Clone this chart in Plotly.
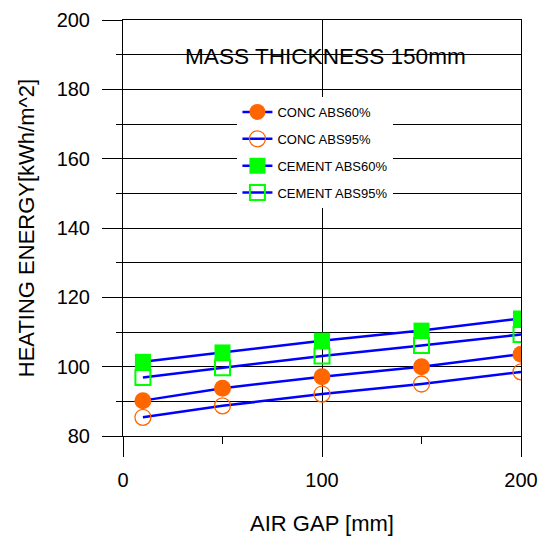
import plotly.graph_objects as go

air_gap = [10, 50, 100, 150, 200]
conc_abs60 = [90.2, 93.8, 97.1, 100.0, 103.6]
conc_abs95 = [85.4, 88.7, 92.1, 95.0, 98.5]
cement_abs60 = [101.4, 104.1, 107.5, 110.4, 113.9]
cement_abs95 = [96.9, 99.7, 103.1, 106.1, 109.3]

series = [
    ("CONC ABS60%", conc_abs60, dict(symbol="circle", size=17, color="#FF6600", line=dict(width=0))),
    ("CONC ABS95%", conc_abs95, dict(symbol="circle-open", size=16, color="#FF6600", line=dict(width=1.3, color="#FF6600"))),
    ("CEMENT ABS60%", cement_abs60, dict(symbol="square", size=16, color="#00FF00", line=dict(width=0))),
    ("CEMENT ABS95%", cement_abs95, dict(symbol="square-open", size=15, color="#00FF00", line=dict(width=2, color="#00FF00"))),
]

FONT = "Liberation Sans, Arial, sans-serif"

fig = go.Figure()
for i, (name, ys, mk) in enumerate(series):
    fig.add_trace(go.Scatter(
        x=air_gap, y=ys, name=name, mode="lines+markers",
        line=dict(color="#0000FF", width=2.5),
        marker=mk, legendgroup=str(i),
    ))

fig.add_annotation(
    text="MASS THICKNESS 150mm", xref="paper", yref="paper",
    x=0.51, y=0.912, xanchor="center", yanchor="middle", showarrow=False,
    font=dict(family=FONT, size=22.6, color="black"),
)

fig.update_layout(
    width=548, height=536,
    margin=dict(l=123, r=27, t=20, b=100, autoexpand=False),
    paper_bgcolor="white", plot_bgcolor="white",
    font=dict(family=FONT, color="black"),
    showlegend=True,
    legend=dict(
        x=0.2875, y=0.815, xanchor="left", yanchor="top",
        bgcolor="white", borderwidth=0,
        font=dict(family=FONT, size=13, color="black"),
        traceorder="grouped", tracegroupgap=7,
    ),
    xaxis=dict(
        range=[0, 200], tickvals=[0, 100, 200], ticks="outside", ticklen=20,
        tickwidth=1, tickcolor="black", automargin=False,
        showgrid=True, gridcolor="black", gridwidth=1,
        showline=True, linecolor="black", linewidth=1, mirror=True,
        zeroline=False,
        tickfont=dict(family=FONT, size=20, color="black"),
        ticklabelstandoff=6,
        minor=dict(tickvals=[50, 150], ticks="outside", ticklen=7, tickcolor="black", showgrid=False),
        title=dict(text="AIR GAP [mm]", font=dict(family=FONT, size=22, color="black"), standoff=25),
    ),
    yaxis=dict(
        range=[80, 200], dtick=20, tick0=80, ticks="outside", ticklen=20,
        tickwidth=1, tickcolor="black", automargin=False,
        showgrid=True, gridcolor="black", gridwidth=1,
        showline=True, linecolor="black", linewidth=1, mirror=True,
        zeroline=False,
        tickfont=dict(family=FONT, size=20, color="black"),
        ticklabelstandoff=8,
        minor=dict(dtick=10, tick0=80, ticks="outside", ticklen=6, tickcolor="black",
                   showgrid=True, gridcolor="black", gridwidth=1),
        title=dict(text="HEATING ENERGY[kWh/m^2]", font=dict(family=FONT, size=22, color="black"), standoff=15),
    ),
)

fig.write_html("out.html")
